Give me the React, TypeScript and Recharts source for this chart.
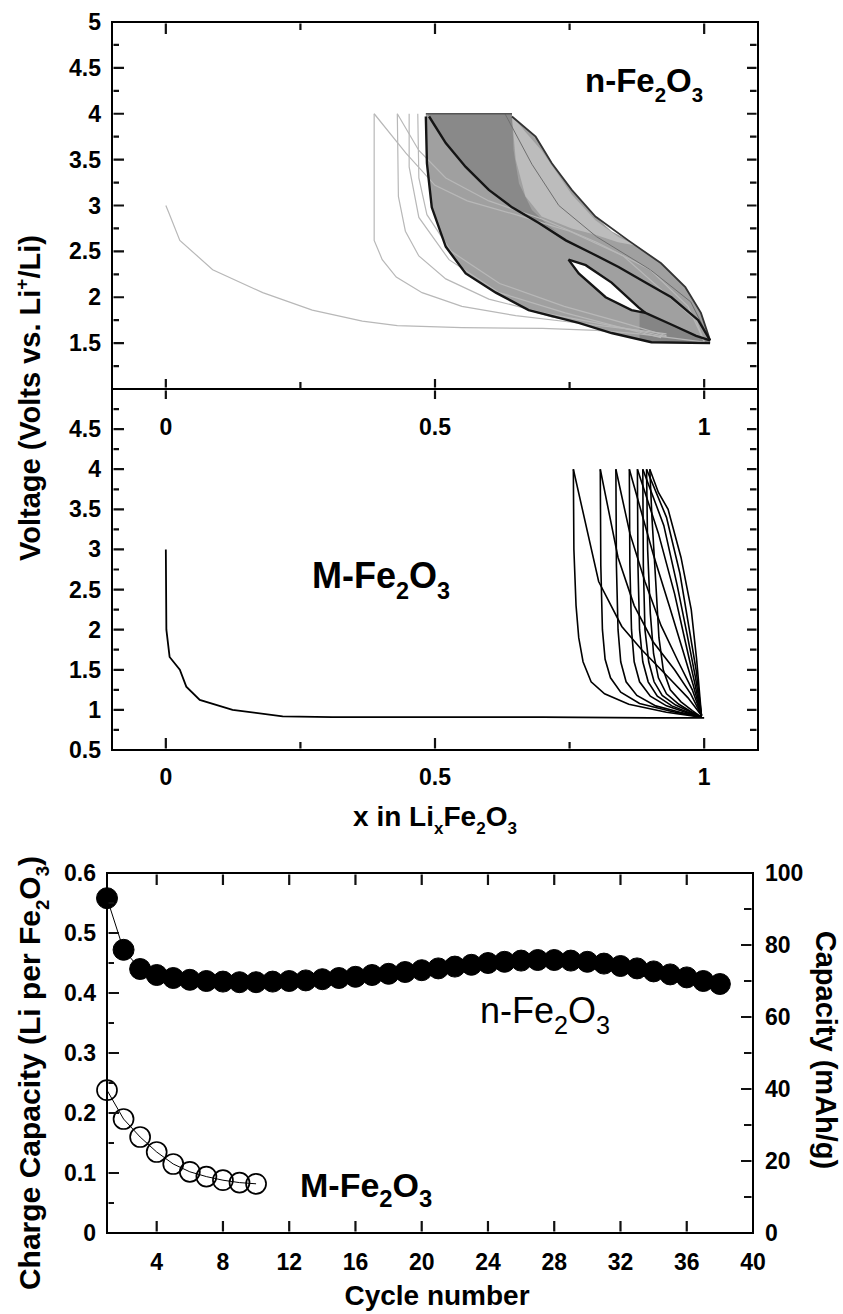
import React from 'react';
import { ComposedChart, Line, Area, XAxis, YAxis, ReferenceArea } from 'recharts';

type Pt = [number, number];

// ---------- top panel: n-Fe2O3, voltage vs x in LixFe2O3 ----------
const nFirstDischarge: Pt[] = [[0, 3.0], [0.005, 2.93], [0.026, 2.62], [0.087, 2.3], [0.18, 2.05], [0.272, 1.86], [0.365, 1.74], [0.43, 1.69], [0.55, 1.67], [0.7, 1.66], [0.8, 1.64], [0.88, 1.6], [0.95, 1.55], [1.0, 1.51]];
const nEarlyCharge1: Pt[] = [[1.0, 1.51], [0.985, 1.75], [0.94, 1.98], [0.85, 2.45], [0.75, 2.72], [0.65, 2.9], [0.56, 3.05], [0.5, 3.22], [0.446, 3.57], [0.387, 4.0]];
const nEarlyDischarge2: Pt[] = [[0.387, 4.0], [0.387, 2.62], [0.402, 2.41], [0.428, 2.22], [0.476, 2.05], [0.55, 1.9], [0.65, 1.8], [0.75, 1.73], [0.85, 1.66], [0.93, 1.6]];
const nEarlyCharge2: Pt[] = [[1.0, 1.52], [0.97, 1.9], [0.9, 2.3], [0.8, 2.6], [0.7, 2.85], [0.6, 3.05], [0.52, 3.3], [0.47, 3.6], [0.43, 4.0]];
const nEarlyDischarge3: Pt[] = [[0.43, 4.0], [0.432, 3.1], [0.445, 2.72], [0.47, 2.45], [0.52, 2.2], [0.6, 1.98], [0.7, 1.83], [0.8, 1.72], [0.88, 1.63], [0.93, 1.57]];
const nEarlyDischarge4: Pt[] = [[0.452, 4.0], [0.452, 3.42], [0.47, 2.87], [0.526, 2.41], [0.619, 2.05], [0.742, 1.83], [0.865, 1.64], [0.92, 1.56]];
const nEarlyDischarge5: Pt[] = [[0.468, 4.0], [0.47, 3.3], [0.485, 2.9], [0.53, 2.5], [0.62, 2.15], [0.74, 1.9], [0.85, 1.72], [0.93, 1.58]];

// envelope and shading of the dense late cycles
const bandX = [0.483, 0.485, 0.494, 0.52, 0.557, 0.613, 0.643, 0.674, 0.687, 0.717, 0.754, 0.767, 0.798, 0.828, 0.859, 0.902, 0.92, 0.965, 0.994, 1.011];
const bandLow = [3.97, 3.46, 2.98, 2.55, 2.26, 2.05, 1.96, 1.86, 1.83, 1.78, 1.74, 1.72, 1.66, 1.61, 1.57, 1.51, 1.51, 1.51, 1.51, 1.5];
const bandHigh = [4, 4, 4, 4, 4, 4, 3.97, 3.82, 3.75, 3.46, 3.17, 3.08, 2.88, 2.72, 2.62, 2.45, 2.37, 2.11, 1.83, 1.53];
const wedgeX = [0.487, 0.52, 0.557, 0.6, 0.643, 0.646, 0.656, 0.68, 0.711, 0.73];
const wedgeLow = [3.98, 3.68, 3.42, 3.17, 2.98, 2.97, 2.93, 2.86, 2.76, 2.7];
const wedgeHigh = [4, 4, 4, 4, 4, 3.6, 3.24, 2.95, 2.78, 2.7];
const sheenX = [0.643, 0.65, 0.668, 0.698, 0.754, 0.798, 0.84, 0.875];
const sheenLow = [3.97, 3.5, 3.1, 2.88, 2.75, 2.68, 2.6, 2.56];
const sheenHigh = [3.97, 3.93, 3.8, 3.6, 3.12, 2.84, 2.66, 2.56];
const lensX = [0.748, 0.767, 0.78, 0.817, 0.828, 0.865, 0.878, 0.891];
const lensLow = [2.41, 2.26, 2.19, 2.0, 1.97, 1.86, 1.845, 1.83];
const lensHigh = [2.41, 2.37, 2.35, 2.2, 2.16, 1.96, 1.89, 1.83];
const footX = [0.88, 0.902, 0.94, 0.985, 1.011];
const footLow = [1.54, 1.51, 1.51, 1.51, 1.5];
const footHigh = [1.85, 1.8, 1.7, 1.58, 1.53];

const nInnerCharge: Pt[] = [[1.011, 1.53], [0.989, 1.75], [0.939, 2.0], [0.891, 2.16], [0.841, 2.33], [0.791, 2.48], [0.743, 2.62], [0.693, 2.81], [0.643, 2.98], [0.6, 3.17], [0.557, 3.42], [0.52, 3.68], [0.489, 3.97]];
const nOuterCharge: Pt[] = [[1.011, 1.53], [0.994, 1.83], [0.965, 2.11], [0.92, 2.37], [0.859, 2.62], [0.798, 2.88], [0.754, 3.17], [0.717, 3.46], [0.687, 3.75], [0.643, 3.97]];
const nMidCharge: Pt[] = [[1.011, 1.53], [0.975, 1.95], [0.9, 2.3], [0.8, 2.66], [0.73, 3.0], [0.68, 3.45], [0.63, 4.0]];
const nDischargeEdge: Pt[] = [[0.483, 3.97], [0.485, 3.46], [0.494, 2.98], [0.52, 2.55], [0.557, 2.26], [0.613, 2.05], [0.674, 1.86], [0.767, 1.72], [0.828, 1.61], [0.902, 1.51], [1.011, 1.5]];
const nLensTail: Pt[] = [[0.748, 2.41], [0.767, 2.26], [0.817, 2.0], [0.865, 1.86], [0.891, 1.83], [0.94, 1.7], [0.985, 1.58], [1.011, 1.53]];
const nLensTop: Pt[] = [[0.748, 2.41], [0.78, 2.35], [0.828, 2.16], [0.878, 1.89], [0.891, 1.83]];
const nTopCut: Pt[] = [[0.483, 4.0], [0.643, 4.0]];

// ---------- middle panel: M-Fe2O3 ----------
const mFirstDischarge: Pt[] = [[0, 3.0], [0.001, 2.0], [0.007, 1.66], [0.026, 1.5], [0.038, 1.29], [0.063, 1.125], [0.124, 1.0], [0.217, 0.92], [0.309, 0.91], [0.5, 0.91], [0.7, 0.91], [0.9, 0.9], [1.0, 0.9]];
const mCharges: Pt[][] = [
  [[0.995, 0.93], [0.97, 1.15], [0.933, 1.41], [0.884, 1.75], [0.847, 2.04], [0.804, 2.6], [0.757, 4.0]],
  [[0.995, 0.93], [0.975, 1.2], [0.945, 1.5], [0.905, 1.85], [0.87, 2.3], [0.84, 2.9], [0.807, 4.0]],
  [[0.995, 0.93], [0.978, 1.25], [0.952, 1.6], [0.92, 2.05], [0.89, 2.6], [0.862, 3.2], [0.836, 4.0]],
  [[0.995, 0.93], [0.98, 1.3], [0.96, 1.75], [0.935, 2.3], [0.905, 2.95], [0.861, 4.0]],
  [[0.995, 0.93], [0.982, 1.35], [0.965, 1.85], [0.945, 2.45], [0.915, 3.2], [0.876, 4.0]],
  [[0.995, 0.93], [0.984, 1.4], [0.968, 1.95], [0.95, 2.55], [0.925, 3.3], [0.886, 4.0]],
  [[0.995, 0.93], [0.985, 1.5], [0.97, 2.1], [0.955, 2.7], [0.93, 3.4], [0.893, 4.0]],
  [[0.995, 0.93], [0.986, 1.63], [0.976, 2.25], [0.957, 2.9], [0.933, 3.5], [0.915, 3.71], [0.899, 4.0]],
];
const mDischarges: Pt[][] = [
  [[0.757, 4.0], [0.758, 3.0], [0.762, 2.3], [0.767, 1.9], [0.775, 1.6], [0.79, 1.35], [0.815, 1.2], [0.86, 1.07], [0.93, 0.97], [0.995, 0.91]],
  [[0.807, 4.0], [0.808, 2.8], [0.811, 2.0], [0.816, 1.63], [0.826, 1.4], [0.845, 1.22], [0.88, 1.08], [0.94, 0.98], [0.995, 0.91]],
  [[0.836, 4.0], [0.837, 2.8], [0.84, 2.0], [0.845, 1.6], [0.855, 1.35], [0.875, 1.18], [0.91, 1.05], [0.955, 0.97], [0.995, 0.91]],
  [[0.861, 4.0], [0.862, 2.8], [0.865, 2.0], [0.87, 1.6], [0.88, 1.35], [0.9, 1.17], [0.93, 1.05], [0.965, 0.97], [0.995, 0.91]],
  [[0.876, 4.0], [0.877, 2.8], [0.88, 2.0], [0.886, 1.6], [0.896, 1.35], [0.913, 1.17], [0.94, 1.05], [0.97, 0.97], [0.995, 0.91]],
  [[0.886, 4.0], [0.887, 2.8], [0.89, 2.0], [0.897, 1.6], [0.907, 1.35], [0.922, 1.18], [0.947, 1.06], [0.973, 0.98], [0.995, 0.91]],
  [[0.893, 4.0], [0.895, 3.0], [0.9, 2.2], [0.906, 1.7], [0.915, 1.4], [0.93, 1.2], [0.953, 1.07], [0.975, 0.98], [0.995, 0.91]],
  [[0.899, 4.0], [0.903, 3.4], [0.91, 2.6], [0.916, 1.9], [0.924, 1.5], [0.937, 1.25], [0.957, 1.1], [0.978, 0.99], [0.995, 0.91]],
];

// ---------- bottom panel: capacity vs cycle ----------
const nCycles = [1, 2, 3, 4, 5, 6, 7, 8, 9, 10, 11, 12, 13, 14, 15, 16, 17, 18, 19, 20, 21, 22, 23, 24, 25, 26, 27, 28, 29, 30, 31, 32, 33, 34, 35, 36, 37, 38];
const nCapacity = [0.558, 0.472, 0.44, 0.43, 0.425, 0.422, 0.42, 0.419, 0.418, 0.418, 0.419, 0.42, 0.421, 0.423, 0.425, 0.427, 0.43, 0.432, 0.435, 0.438, 0.441, 0.444, 0.447, 0.45, 0.452, 0.454, 0.455, 0.455, 0.454, 0.452, 0.449, 0.445, 0.441, 0.436, 0.431, 0.426, 0.42, 0.415];
const mCycles = [1, 2, 3, 4, 5, 6, 7, 8, 9, 10];
const mCapacity = [0.238, 0.19, 0.16, 0.135, 0.115, 0.102, 0.094, 0.088, 0.084, 0.082];

// ---------- ticks ----------
const X_TICKS = [0, 0.25, 0.5, 0.75, 1];
const X_MAJOR = [0, 0.5, 1];
const TOP_V_TICKS = [1.25, 1.5, 1.75, 2, 2.25, 2.5, 2.75, 3, 3.25, 3.5, 3.75, 4, 4.25, 4.5, 4.75, 5];
const TOP_V_MAJOR = [1.5, 2, 2.5, 3, 3.5, 4, 4.5, 5];
const MID_V_TICKS = [0.5, 0.75, 1, 1.25, 1.5, 1.75, 2, 2.25, 2.5, 2.75, 3, 3.25, 3.5, 3.75, 4, 4.25, 4.5, 4.75];
const MID_V_MAJOR = [0.5, 1, 1.5, 2, 2.5, 3, 3.5, 4, 4.5];
const CYCLE_TICKS = [4, 8, 12, 16, 20, 24, 28, 32, 36, 40];
const LI_TICKS = [0, 0.05, 0.1, 0.15, 0.2, 0.25, 0.3, 0.35, 0.4, 0.45, 0.5, 0.55, 0.6];
const LI_MAJOR = [0, 0.1, 0.2, 0.3, 0.4, 0.5, 0.6];
const MAH_TICKS = [0, 10, 20, 30, 40, 50, 60, 70, 80, 90, 100];
const MAH_MAJOR = [0, 20, 40, 60, 80, 100];

const FONT = '"Liberation Sans", Arial, Helvetica, sans-serif';
const TICK_FS = 23;
const INK = '#000';

type Box = { l: number; r: number; t: number; b: number };
const TOP_BOX: Box = { l: 112, r: 758, t: 22, b: 389 };
const MID_BOX: Box = { l: 112, r: 758, t: 9, b: 370 };
const BOT_BOX: Box = { l: 107, r: 753, t: 33, b: 393 };
const TOP_Y0 = 0;
const MID_Y0 = 380;
const BOT_Y0 = 840;

const lin = (d0: number, d1: number, p0: number, p1: number) => (v: number) => p0 + ((v - d0) / (d1 - d0)) * (p1 - p0);
const xPage = lin(-0.1, 1.1, TOP_BOX.l, TOP_BOX.r);
const topYPage = lin(1, 5, TOP_Y0 + TOP_BOX.b, TOP_Y0 + TOP_BOX.t);
const midYPage = lin(0.5, 5, MID_Y0 + MID_BOX.b, MID_Y0 + MID_BOX.t);
const cycXPage = lin(1, 40, BOT_BOX.l, BOT_BOX.r);
const liYPage = lin(0, 0.6, BOT_Y0 + BOT_BOX.b, BOT_Y0 + BOT_BOX.t);
const mahYPage = lin(0, 100, BOT_Y0 + BOT_BOX.b, BOT_Y0 + BOT_BOX.t);

const rows = (pts: Pt[]) => pts.map(([x, v]) => ({ x, v }));
const bandRows = (xs: number[], lo: number[], hi: number[]) => xs.map((x, i) => ({ x, r: [lo[i], hi[i]] }));

function tickText(x: number, y: number, anchor: string, v: number | string) {
  return (
    <text x={x} y={y} textAnchor={anchor as any} fontFamily={FONT} fontWeight="bold" fontSize={TICK_FS} fill={INK} stroke="none">
      {v}
    </text>
  );
}

function voltLabel(box: Box, majors: number[]) {
  return (props: any) => {
    const v = props.payload.value;
    return <g>{majors.includes(v) && tickText(box.l - 11, Number(props.y) + 8, 'end', v)}</g>;
  };
}
function xLabel(box: Box, dy: number) {
  return (props: any) => {
    const v = props.payload.value;
    return <g>{X_MAJOR.includes(v) && tickText(Number(props.x), box.b + dy, 'middle', v)}</g>;
  };
}
const cycleLabel = (props: any) => <g>{tickText(Number(props.x), BOT_BOX.b + 37, 'middle', props.payload.value)}</g>;
const liLabel = (props: any) => {
  const v = props.payload.value;
  return <g>{LI_MAJOR.includes(v) && tickText(BOT_BOX.l - 11, Number(props.y) + 8, 'end', v)}</g>;
};
const mahLabel = (props: any) => {
  const v = props.payload.value;
  return <g>{MAH_MAJOR.includes(v) && tickText(BOT_BOX.r + 12, Number(props.y) + 8, 'start', v)}</g>;
};

const lightLine = { stroke: '#b8b8b8', strokeWidth: 1.2 };
const darkLine = { stroke: '#151515', strokeWidth: 2.4 };

function TopPanel() {
  return (
    <ComposedChart width={843} height={445} margin={{ top: 22, right: 85, bottom: 26, left: 52 }}>
      <XAxis dataKey="x" type="number" domain={[-0.1, 1.1]} ticks={X_TICKS} interval={0} tick={xLabel(TOP_BOX, 46)} tickLine={false} axisLine={false} height={30} />
      <YAxis type="number" domain={[1, 5]} ticks={TOP_V_TICKS} interval={0} tick={voltLabel(TOP_BOX, TOP_V_MAJOR)} tickLine={false} axisLine={false} width={60} />
      {[nFirstDischarge, nEarlyCharge1, nEarlyDischarge2, nEarlyCharge2, nEarlyDischarge3, nEarlyDischarge4, nEarlyDischarge5].map((c, i) => (
        <Line key={'e' + i} data={rows(c)} dataKey="v" type="linear" dot={false} activeDot={false} isAnimationActive={false} {...lightLine} />
      ))}
      <Area data={bandRows(bandX, bandLow, bandHigh)} dataKey="r" type="linear" stroke="none" fill="#a0a0a0" fillOpacity={1} isAnimationActive={false} />
      <Area data={bandRows(wedgeX, wedgeLow, wedgeHigh)} dataKey="r" type="linear" stroke="none" fill="#898989" fillOpacity={1} isAnimationActive={false} />
      <Area data={bandRows(sheenX, sheenLow, sheenHigh)} dataKey="r" type="linear" stroke="none" fill="#bcbcbc" fillOpacity={1} isAnimationActive={false} />
      <Area data={bandRows(footX, footLow, footHigh)} dataKey="r" type="linear" stroke="none" fill="#858585" fillOpacity={1} isAnimationActive={false} />
      <Area data={bandRows(lensX, lensLow, lensHigh)} dataKey="r" type="linear" stroke="none" fill="#ffffff" fillOpacity={1} isAnimationActive={false} />
      <Line data={rows(nMidCharge)} dataKey="v" type="linear" dot={false} activeDot={false} isAnimationActive={false} stroke="#6e6e6e" strokeWidth={1} />
      <Line data={rows(nTopCut)} dataKey="v" type="linear" dot={false} activeDot={false} isAnimationActive={false} stroke="#555" strokeWidth={1.5} />
      <Line data={rows(nOuterCharge)} dataKey="v" type="linear" dot={false} activeDot={false} isAnimationActive={false} stroke="#333" strokeWidth={1.8} />
      {[nInnerCharge, nDischargeEdge, nLensTail, nLensTop].map((c, i) => (
        <Line key={'d' + i} data={rows(c)} dataKey="v" type="linear" dot={false} activeDot={false} isAnimationActive={false} {...darkLine} />
      ))}
      <ReferenceArea x1={-0.1} x2={1.1} y1={1} y2={5} fill="none" fillOpacity={0} stroke={INK} strokeWidth={2} ifOverflow="visible" />
    </ComposedChart>
  );
}

function MidPanel() {
  return (
    <ComposedChart width={843} height={460} margin={{ top: 9, right: 85, bottom: 60, left: 52 }}>
      <XAxis dataKey="x" type="number" domain={[-0.1, 1.1]} ticks={X_TICKS} interval={0} tick={xLabel(MID_BOX, 35)} tickLine={false} axisLine={false} height={30} />
      <YAxis type="number" domain={[0.5, 5]} ticks={MID_V_TICKS} interval={0} tick={voltLabel(MID_BOX, MID_V_MAJOR)} tickLine={false} axisLine={false} width={60} />
      <Line data={rows(mFirstDischarge)} dataKey="v" type="linear" dot={false} activeDot={false} isAnimationActive={false} stroke={INK} strokeWidth={1.8} />
      {mCharges.map((c, i) => (
        <Line key={'c' + i} data={rows(c)} dataKey="v" type="linear" dot={false} activeDot={false} isAnimationActive={false} stroke={INK} strokeWidth={1.6} />
      ))}
      {mDischarges.map((c, i) => (
        <Line key={'m' + i} data={rows(c)} dataKey="v" type="linear" dot={false} activeDot={false} isAnimationActive={false} stroke={INK} strokeWidth={1.6} />
      ))}
      <ReferenceArea x1={-0.1} x2={1.1} y1={0.5} y2={5} fill="none" fillOpacity={0} stroke={INK} strokeWidth={2} ifOverflow="visible" />
    </ComposedChart>
  );
}

function BottomPanel() {
  const nRows = nCycles.map((c, i) => ({ x: c, v: nCapacity[i] }));
  const mRows = mCycles.map((c, i) => ({ x: c, v: mCapacity[i] }));
  return (
    <ComposedChart width={843} height={474} margin={{ top: 33, right: 30, bottom: 51, left: 47 }}>
      <XAxis dataKey="x" type="number" domain={[1, 40]} ticks={CYCLE_TICKS} interval={0} tick={cycleLabel} tickLine={false} axisLine={false} height={30} />
      <YAxis yAxisId="li" type="number" domain={[0, 0.6]} ticks={LI_TICKS} interval={0} tick={liLabel} tickLine={false} axisLine={false} width={60} />
      <YAxis yAxisId="mah" orientation="right" type="number" domain={[0, 100]} allowDataOverflow ticks={MAH_TICKS} interval={0} tick={mahLabel} tickLine={false} axisLine={false} width={60} />
      <Line yAxisId="li" data={mRows} dataKey="v" type="linear" isAnimationActive={false} stroke={INK} strokeWidth={1}
        dot={{ r: 10, fill: 'none', stroke: INK, strokeWidth: 1.7 }} activeDot={false} />
      <Line yAxisId="li" data={nRows} dataKey="v" type="linear" isAnimationActive={false} stroke={INK} strokeWidth={1}
        dot={{ r: 10.5, fill: INK, stroke: INK, strokeWidth: 1 }} activeDot={false} />
      <ReferenceArea yAxisId="li" x1={1} x2={40} y1={0} y2={0.6} fill="none" fillOpacity={0} stroke={INK} strokeWidth={2} ifOverflow="visible" />
    </ComposedChart>
  );
}

// inward tick marks, started just inside each frame line
const GAP = 1.5;
function TickMarks() {
  let d = '';
  const h = (x: number, y: number, len: number) => {
    const s = len > 0 ? GAP : -GAP;
    d += `M${(x + s).toFixed(2)},${y.toFixed(2)}H${(x + len).toFixed(2)}`;
  };
  const v = (x: number, y: number, len: number) => {
    const s = len > 0 ? GAP : -GAP;
    d += `M${x.toFixed(2)},${(y + s).toFixed(2)}V${(y + len).toFixed(2)}`;
  };
  TOP_V_TICKS.forEach((t) => {
    if (t === 5) return;
    const major = TOP_V_MAJOR.includes(t);
    h(TOP_BOX.l, topYPage(t), major ? 12 : 7);
    h(TOP_BOX.r, topYPage(t), major ? -11 : -8);
  });
  MID_V_TICKS.forEach((t) => {
    if (t === 0.5) return;
    const major = MID_V_MAJOR.includes(t);
    h(TOP_BOX.l, midYPage(t), major ? 12 : 7);
    h(TOP_BOX.r, midYPage(t), major ? -11 : -8);
  });
  X_TICKS.forEach((t) => {
    const major = X_MAJOR.includes(t);
    const x = xPage(t);
    v(x, topYPage(5), major ? 12 : 8);
    v(x, topYPage(1), major ? -10 : -7);
    v(x, midYPage(5), major ? 10 : 0);
    v(x, midYPage(0.5), major ? -12 : -8);
  });
  LI_TICKS.forEach((t) => {
    if (t === 0 || t === 0.6) return;
    h(BOT_BOX.l, liYPage(t), LI_MAJOR.includes(t) ? 12 : 7);
  });
  MAH_TICKS.forEach((t) => {
    if (t === 0 || t === 100) return;
    h(BOT_BOX.r, mahYPage(t), MAH_MAJOR.includes(t) ? -12 : -9);
  });
  CYCLE_TICKS.forEach((t) => {
    if (t === 40) return;
    v(cycXPage(t), liYPage(0), -12);
    v(cycXPage(t), liYPage(0.6), 12);
  });
  return <path d={d} fill="none" stroke="#111" strokeWidth={2.2} strokeLinecap="butt" />;
}

function Fe2O3({ fs, r = 0.62, tail }: { fs: number; r?: number; tail?: string }) {
  const d = fs * 0.3;
  return (
    <>
      <tspan>Fe</tspan>
      <tspan fontSize={fs * r} dy={d}>2</tspan>
      <tspan dy={-d}>O</tspan>
      <tspan fontSize={fs * r} dy={d}>3</tspan>
      {tail && <tspan dy={-d}>{tail}</tspan>}
    </>
  );
}

function Labels() {
  const t = { fontFamily: FONT, fontWeight: 'bold' as const, fill: INK };
  return (
    <svg width={843} height={1314} style={{ position: 'absolute', left: 0, top: 0, pointerEvents: 'none' }}>
      <TickMarks />
      <text x={585} y={92} fontSize={33} {...t}>
        n-<Fe2O3 fs={33} />
      </text>
      <text x={312} y={588} fontSize={36} {...t}>
        M-<Fe2O3 fs={36} r={0.65} />
      </text>
      <text x={40} y={398} fontSize={29} textAnchor="middle" transform="rotate(-90 40 398)" {...t}>
        Voltage (Volts vs. Li<tspan fontSize={19} dy={-12}>+</tspan>
        <tspan dy={12}>/Li)</tspan>
      </text>
      <text x={435} y={826} fontSize={28} textAnchor="middle" {...t}>
        x in Li<tspan fontSize={17} dy={8}>x</tspan>
        <tspan dy={-8}>Fe</tspan>
        <tspan fontSize={17} dy={8}>2</tspan>
        <tspan dy={-8}>O</tspan>
        <tspan fontSize={17} dy={8}>3</tspan>
      </text>
      <text x={480} y={1023} fontSize={36} fontFamily={FONT} fill={INK}>
        n-<Fe2O3 fs={36} r={0.7} />
      </text>
      <text x={300} y={1197} fontSize={34} {...t}>
        M-<Fe2O3 fs={34} r={0.7} />
      </text>
      <text x={40} y={1073} fontSize={30} textAnchor="middle" transform="rotate(-90 40 1073)" {...t}>
        Charge Capacity (Li per <Fe2O3 fs={30} tail=")" />
      </text>
      <text x={816} y={1050} fontSize={29} textAnchor="middle" transform="rotate(90 816 1050)" {...t}>
        Capacity (mAh/g)
      </text>
      <text x={437} y={1305} fontSize={28} textAnchor="middle" {...t}>
        Cycle number
      </text>
    </svg>
  );
}

export default function App() {
  return (
    <div style={{ position: 'absolute', left: 0, top: 0, width: 843, height: 1314, background: '#fff', overflow: 'hidden' }}>
      <div style={{ position: 'absolute', left: 0, top: MID_Y0 }}>
        <MidPanel />
      </div>
      <div style={{ position: 'absolute', left: 0, top: TOP_Y0 }}>
        <TopPanel />
      </div>
      <div style={{ position: 'absolute', left: 0, top: BOT_Y0 }}>
        <BottomPanel />
      </div>
      <Labels />
    </div>
  );
}
